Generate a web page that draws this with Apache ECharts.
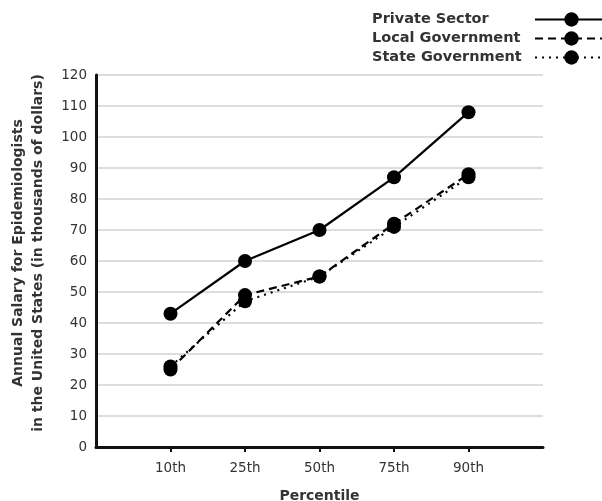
<!DOCTYPE html>
<html>
<head>
<meta charset="utf-8">
<script src="https://cdn.jsdelivr.net/npm/echarts@6/dist/echarts.min.js"></script>
<style>html,body{margin:0;padding:0;background:#fff}#c{width:602px;height:501px}</style>
</head>
<body>
<div id="c"></div>
<script>
const categories = ['10th', '25th', '50th', '75th', '90th'];
const privateSector = [43, 60, 70, 87, 108];
const localGovernment = [25, 49, 55, 72, 88];
const stateGovernment = [26, 47, 55, 71, 87];
const yTicks = [0, 10, 20, 30, 40, 50, 60, 70, 80, 90, 100, 110, 120];

const FONT = '"DejaVu Sans", sans-serif';
// pad categories with empty slots at both ends (axis extends one band either side)
const axisCats = [''].concat(categories, ['']);
const pad = arr => [null].concat(arr, [null]);

const chart = echarts.init(document.getElementById('c'), null, {renderer: 'canvas'});
const mk = (name, data, type) => ({
  name: name,
  type: 'line',
  data: pad(data),
  symbol: 'circle',
  symbolSize: 14,
  connectNulls: false,
  itemStyle: {color: '#000'},
  lineStyle: {color: '#000', width: 2.2, type: type},
  z: type === 'solid' ? 3 : 2
});
chart.setOption({
  animation: false,
  backgroundColor: '#fff',
  grid: {left: 96, right: 59, top: 75, bottom: 54, containLabel: false, outerBoundsMode: 'none'},
  legend: {
    orient: 'vertical',
    left: 367,
    top: 7,
    align: 'right',
    itemWidth: 73,
    itemHeight: 18,
    itemGap: 4,
    formatter: n => '{a|' + n + '}',
    textStyle: {
      rich: {a: {width: 158, align: 'left', fontFamily: FONT, fontWeight: 'bold', fontSize: 14.5, color: '#333'}}
    },
    data: ['Private Sector', 'Local Government', 'State Government']
  },
  xAxis: {
    type: 'category',
    data: axisCats,
    boundaryGap: false,
    name: 'Percentile',
    nameLocation: 'middle',
    nameGap: 42,
    nameTextStyle: {fontFamily: FONT, fontWeight: 'bold', fontSize: 14, color: '#333'},
    axisLine: {lineStyle: {color: '#111', width: 3}},
    axisTick: {show: true, length: 5, interval: (i, v) => v !== '', lineStyle: {color: '#111', width: 2}},
    axisLabel: {interval: 0, margin: 14, fontFamily: FONT, fontSize: 13.5, color: '#333'},
    splitLine: {show: false}
  },
  yAxis: {
    type: 'value',
    min: yTicks[0],
    max: yTicks[yTicks.length - 1],
    interval: 10,
    name: 'Annual Salary for Epidemiologists\nin the United States (in thousands of dollars)',
    nameLocation: 'middle',
    nameGap: 48,
    nameTextStyle: {fontFamily: FONT, fontWeight: 'bold', fontSize: 14, color: '#333', lineHeight: 20, padding: [0, 0, 0, 16]},
    axisLine: {show: true, lineStyle: {color: '#111', width: 3}},
    axisTick: {show: false},
    axisLabel: {margin: 9, fontFamily: FONT, fontSize: 13.5, color: '#333'},
    splitLine: {lineStyle: {color: '#ddd', width: 2}}
  },
  series: [
    mk('Private Sector', privateSector, 'solid'),
    mk('Local Government', localGovernment, [8, 5]),
    mk('State Government', stateGovernment, [2, 5])
  ]
});
</script>
</body>
</html>
